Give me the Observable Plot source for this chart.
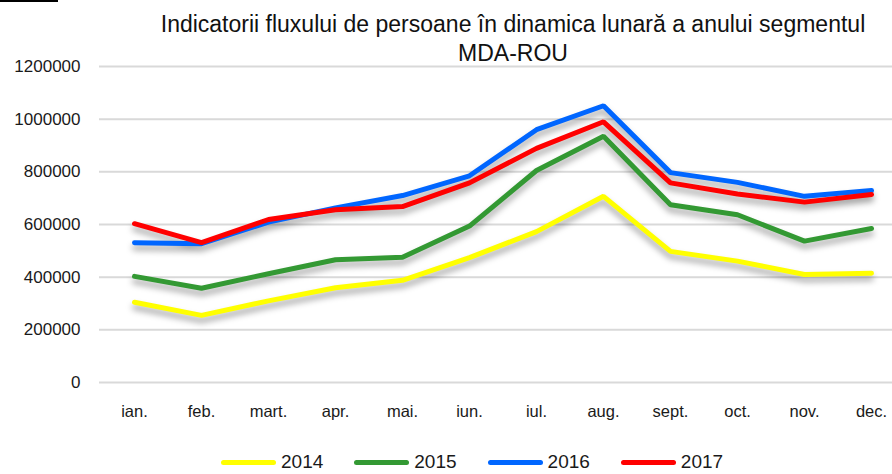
<!DOCTYPE html>
<html>
<head>
<meta charset="utf-8">
<script src="https://cdn.jsdelivr.net/npm/d3@7"></script>
<script src="https://cdn.jsdelivr.net/npm/@observablehq/plot@0.6"></script>
<style>
  html, body { margin: 0; padding: 0; background: #fff; }
  body { width: 892px; height: 474px; overflow: hidden; position: relative; font-family: "Liberation Sans", Arial, sans-serif; color: #1a1a1a; }
  #topline { position: absolute; left: 0; top: 0; width: 58px; height: 2px; background: #000; }
  #title { position: absolute; left: 513px; top: 10px; transform: translateX(-50%); white-space: nowrap; text-align: center; font-size: 23px; line-height: 29px; color: #111; z-index: 2; }
  #chart { position: absolute; left: 0; top: 0; }
  #legend { position: absolute; left: 221px; top: 451px; height: 22px; display: flex; align-items: center; font-size: 19px; line-height: 22px; color: #1a1a1a; }
  .item { display: flex; align-items: center; margin-right: 31px; }
  .sw { width: 55px; height: 5px; border-radius: 3px; margin-right: 5px; }
</style>
</head>
<body>
<div id="topline"></div>
<div id="chart"></div>
<div id="title">Indicatorii fluxului de persoane în dinamica lunară a anului segmentul<br>MDA-ROU</div>
<div id="legend"></div>
<script>
const months = ["ian.", "feb.", "mart.", "apr.", "mai.", "iun.", "iul.", "aug.", "sept.", "oct.", "nov.", "dec."];
const years = ["2014", "2015", "2016", "2017"];
const colors = ["#ffff00", "#339933", "#0066ff", "#ff0000"];
const v2014 = [305000, 255000, 310000, 360000, 388000, 474000, 573000, 707000, 498000, 461000, 410000, 415000];
const v2015 = [403000, 358000, 413000, 466000, 476000, 594000, 805000, 935000, 675000, 637000, 537000, 585000];
const v2016 = [531000, 527000, 609000, 663000, 710000, 785000, 960000, 1051000, 797000, 760000, 707000, 729000];
const v2017 = [603000, 531000, 619000, 656000, 668000, 758000, 889000, 990000, 758000, 716000, 685000, 714000];
const yTicks = [0, 200000, 400000, 600000, 800000, 1000000, 1200000];

const series = [v2014, v2015, v2016, v2017];
const data = [];
series.forEach((vals, i) => vals.forEach((v, j) => data.push({year: years[i], month: months[j], value: v})));

const chart = Plot.plot({
  width: 892,
  height: 474,
  marginLeft: 99,
  marginRight: 0,
  marginTop: 66,
  marginBottom: 92,
  style: { fontFamily: "Liberation Sans, Arial, sans-serif", fontSize: "17px", color: "#1a1a1a", background: "transparent" },
  x: { type: "point", domain: months, padding: 0, insetLeft: 33, insetRight: 20, label: null },
  y: { domain: [0, 1200000], label: null },
  color: { domain: years, range: colors },
  marks: [
    Plot.ruleY(yTicks, { stroke: "#d9d9d9", strokeWidth: 2 }),
    Plot.axisY({ ticks: yTicks, tickSize: 0, tickPadding: 19, tickFormat: d => String(d), label: null, fontSize: 17 }),
    Plot.axisX({ tickSize: 0, tickPadding: 23, label: null, fontSize: 16.5 }),
    Plot.line(data, { x: "month", y: "value", z: "year", stroke: "year", strokeWidth: 5, strokeLinecap: "round", strokeLinejoin: "miter" })
  ]
});
document.getElementById("chart").appendChild(chart);
d3.select(chart).selectAll("g[aria-label='line']").style("filter", "drop-shadow(0px 5px 3px rgba(0,0,0,0.35))");

const legend = d3.select("#legend");
years.forEach((y, i) => {
  const it = legend.append("div").attr("class", "item");
  it.append("div").attr("class", "sw").style("background", colors[i]);
  it.append("span").text(y);
});
</script>
</body>
</html>
